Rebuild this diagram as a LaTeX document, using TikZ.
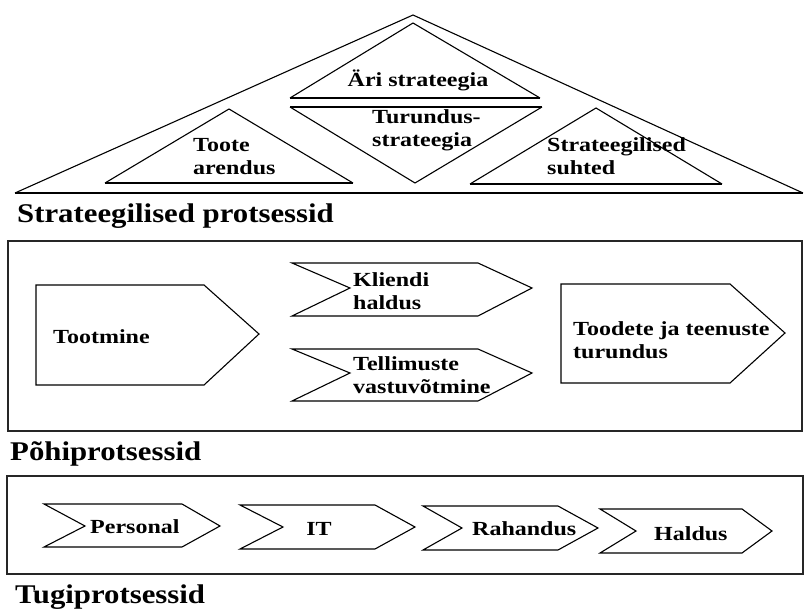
\documentclass[tikz,border=0pt]{standalone}
\usepackage{fontspec}
\setmainfont{Liberation Serif}
\newfontfamily\lblfont{Liberation Serif}[FakeStretch=1.2]
\newfontfamily\hdfont{Liberation Serif}[FakeStretch=1.14]
\begin{document}
\begin{tikzpicture}[x=1pt,y=-1pt,
  outline/.style={draw=black, line width=1.1pt, line join=miter},
  baseline/.style={draw=black, line width=1.8pt},
  frame/.style={draw=black!85, line width=1.3pt},
  lbl/.style={font=\lblfont\bfseries\fontsize{20}{23}\selectfont, inner sep=0pt, anchor=base west, align=left, text=black},
  hd/.style={font=\hdfont\bfseries\fontsize{27}{30}\selectfont, inner sep=0pt, anchor=base west, text=black}]
\useasboundingbox (0,0) rectangle (805,609);

% ---- strategic roof ----
\draw[outline] (15,193) -- (413,15) -- (803,193);
\draw[baseline] (15,193) -- (803,193);
\draw[outline] (290,98) -- (413,23) -- (540,98);
\draw[baseline] (290,98) -- (540,98);
\draw[outline] (290,107) -- (415,183) -- (542,107);
\draw[baseline] (290,107) -- (542,107);
\draw[outline] (105,183) -- (229,109) -- (353,183);
\draw[baseline] (105,183) -- (353,183);
\draw[outline] (470,184) -- (596,108) -- (722,184);
\draw[baseline] (470,184) -- (722,184);

% multi-line labels are placed by the baseline of their last line
\node[lbl, anchor=base] (ari) at (418,87) {Äri strateegia};
\node[lbl] (turundus) at (372,147) {Turundus-\\strateegia};
\node[lbl] (toote) at (193,175) {Toote\\arendus};
\node[lbl] (suhted) at (547,175) {Strateegilised\\suhted};
\node[hd] (strat) at (17,223) {Strateegilised protsessid};

% ---- core processes ----
\draw[frame] (8,241) rectangle (802,431);
\draw[outline] (36,285) -- (204,285) -- (259,334) -- (204,385) -- (36,385) -- cycle;
\draw[outline] (561,284) -- (730,284) -- (785,333) -- (730,383) -- (561,383) -- cycle;
\draw[outline] (292,263) -- (478,263) -- (532,288) -- (478,316) -- (292,316) -- (350,288) -- cycle;
\draw[outline] (292,349) -- (478,349) -- (532,373) -- (478,401) -- (292,401) -- (350,373) -- cycle;

\node[lbl] (tootmine) at (53,343) {Tootmine};
\node[lbl] (kliendi) at (353,309) {Kliendi\\haldus};
\node[lbl] (tellimuste) at (353,393) {Tellimuste\\vastuvõtmine};
\node[lbl] (toodete) at (573,358) {Toodete ja teenuste\\turundus};
\node[hd] (pohi) at (10,460) {Põhiprotsessid};

% ---- support processes ----
\draw[frame] (7,476) rectangle (803,574);
\draw[outline] (44,504) -- (182,504) -- (220,526) -- (182,547) -- (44,547) -- (85,526) -- cycle;
\draw[outline] (240,505) -- (375,505) -- (415,527) -- (375,549) -- (240,549) -- (283,527) -- cycle;
\draw[outline] (423,506) -- (558,506) -- (598,528) -- (558,550) -- (423,550) -- (462,528) -- cycle;
\draw[outline] (600,509) -- (742,509) -- (772,531) -- (742,553) -- (600,553) -- (636,531) -- cycle;

\node[lbl] (personal) at (90,533) {Personal};
\node[lbl, anchor=base] (it) at (319,535) {IT};
\node[lbl] (rahandus) at (472,535) {Rahandus};
\node[lbl] (haldus) at (654,540) {Haldus};
\node[hd] (tugi) at (15,603) {Tugiprotsessid};
\end{tikzpicture}
\end{document}
